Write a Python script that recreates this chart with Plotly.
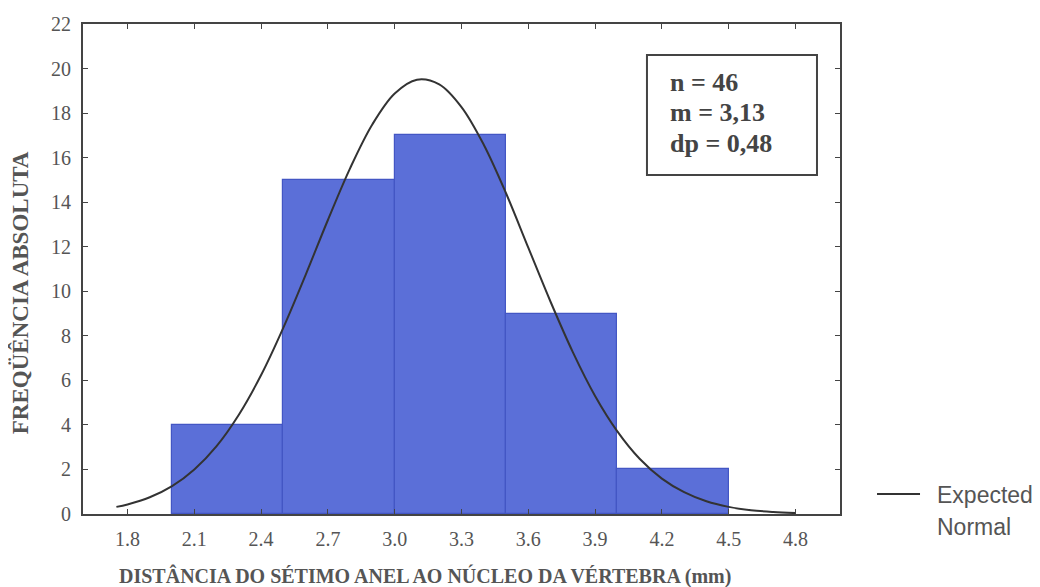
import plotly.graph_objects as go

# Histogram bins (left edges) and absolute frequencies
bin_starts = [2.0, 2.5, 3.0, 3.5, 4.0]
bin_width = 0.5
frequencies = [4, 15, 17, 9, 2]

# Expected normal curve
curve_x = [1.75, 1.8, 1.9, 2.0, 2.1, 2.2, 2.3, 2.4, 2.5, 2.6, 2.7, 2.8, 2.9, 3.0, 3.1,
           3.2, 3.3, 3.4, 3.5, 3.6, 3.7, 3.8, 3.9, 4.0, 4.1, 4.2, 4.3, 4.4, 4.5, 4.6, 4.7, 4.8]
curve_y = [0.32, 0.43, 0.75, 1.25, 2.00, 3.05, 4.46, 6.24, 8.37, 10.74, 13.20, 15.53, 17.50,
           18.88, 19.50, 19.29, 18.27, 16.58, 14.40, 11.96, 9.53, 7.27, 5.30, 3.71, 2.48,
           1.59, 0.98, 0.57, 0.32, 0.17, 0.09, 0.04]

x_ticks = [1.8, 2.1, 2.4, 2.7, 3.0, 3.3, 3.6, 3.9, 4.2, 4.5, 4.8]
y_ticks = list(range(0, 23, 2))
stats_lines = ["n = 46", "m = 3,13", "dp = 0,48"]
legend_lines = ["Expected", "Normal"]

GRAY = "#555555"
SERIF = "Liberation Serif, Times New Roman, serif"
SANS = "Liberation Sans, Arial, sans-serif"

fig = go.Figure()
fig.add_trace(go.Bar(
    x=[s + bin_width / 2 for s in bin_starts],
    y=frequencies,
    width=[bin_width] * len(bin_starts),
    marker=dict(color="#5b6fd8", line=dict(color="#4356c4", width=1.2)),
    showlegend=False,
    hoverinfo="x+y",
))
fig.add_trace(go.Scatter(
    x=curve_x, y=curve_y, mode="lines",
    line=dict(color="#333333", width=2, shape="spline"),
    name="Expected Normal", showlegend=False,
))

# the page body has an 8px margin, so the figure is 8px smaller and margins shifted
fig.update_layout(
    width=1032, height=579,
    margin=dict(l=75, r=200, t=16, b=73),
    paper_bgcolor="white", plot_bgcolor="white",
    bargap=0,
    font=dict(family=SERIF, color=GRAY, size=20),
    showlegend=False,
    xaxis=dict(range=[1.6, 5.0], tickvals=x_ticks, ticktext=[f"{v:.1f}" for v in x_ticks],
               ticks="inside", ticklen=5, tickcolor="#444", showline=True, linecolor="#444",
               linewidth=2, mirror="ticks", showgrid=False, zeroline=False,
               ticklabelstandoff=6, automargin=False,
               tickfont=dict(family=SERIF, size=20, color=GRAY)),
    yaxis=dict(range=[0, 22], tickvals=y_ticks, ticks="inside", ticklen=5, tickcolor="#444",
               showline=True, linecolor="#444", linewidth=2, mirror="ticks", showgrid=False,
               zeroline=False, ticklabelstandoff=6, automargin=False,
               tickfont=dict(family=SERIF, size=20, color=GRAY)),
)

fig.add_annotation(
    xref="paper", yref="paper", x=-0.083, y=0.451,
    text="<b>FREQÜÊNCIA ABSOLUTA</b>", textangle=-90, showarrow=False,
    font=dict(family=SERIF, size=23, color=GRAY), xanchor="center", yanchor="middle",
)
fig.add_annotation(
    xref="paper", yref="paper", x=0.452, y=-0.126,
    text="<b>DISTÂNCIA DO SÉTIMO ANEL AO NÚCLEO DA VÉRTEBRA (mm)</b>", showarrow=False,
    font=dict(family=SERIF, size=20, color=GRAY), xanchor="center", yanchor="middle",
)

# statistics box
fig.add_shape(
    type="rect", xref="paper", yref="paper", x0=0.745, x1=0.9696, y0=0.6918, y1=0.9367,
    line=dict(color="#444", width=2), fillcolor="white", layer="above",
)
for line_text, ypos in zip(stats_lines, [0.8796, 0.8184, 0.7571]):
    fig.add_annotation(
        xref="paper", yref="paper", x=0.7728, y=ypos,
        text=f"<b>{line_text}</b>", showarrow=False, align="left",
        font=dict(family=SERIF, size=26, color="#444"), xanchor="left", yanchor="middle",
    )

# legend drawn by hand (a plotly legend would push the margins)
fig.add_shape(
    type="line", xref="paper", yref="paper", x0=1.0489, x1=1.1057, y0=0.0408, y1=0.0408,
    line=dict(color="#333333", width=2),
)
for line_text, ypos in zip(legend_lines, [0.0388, -0.0265]):
    fig.add_annotation(
        xref="paper", yref="paper", x=1.1255, y=ypos, text=line_text, showarrow=False,
        font=dict(family=SANS, size=23, color=GRAY), xanchor="left", yanchor="middle",
    )

fig.write_html("out.html")
